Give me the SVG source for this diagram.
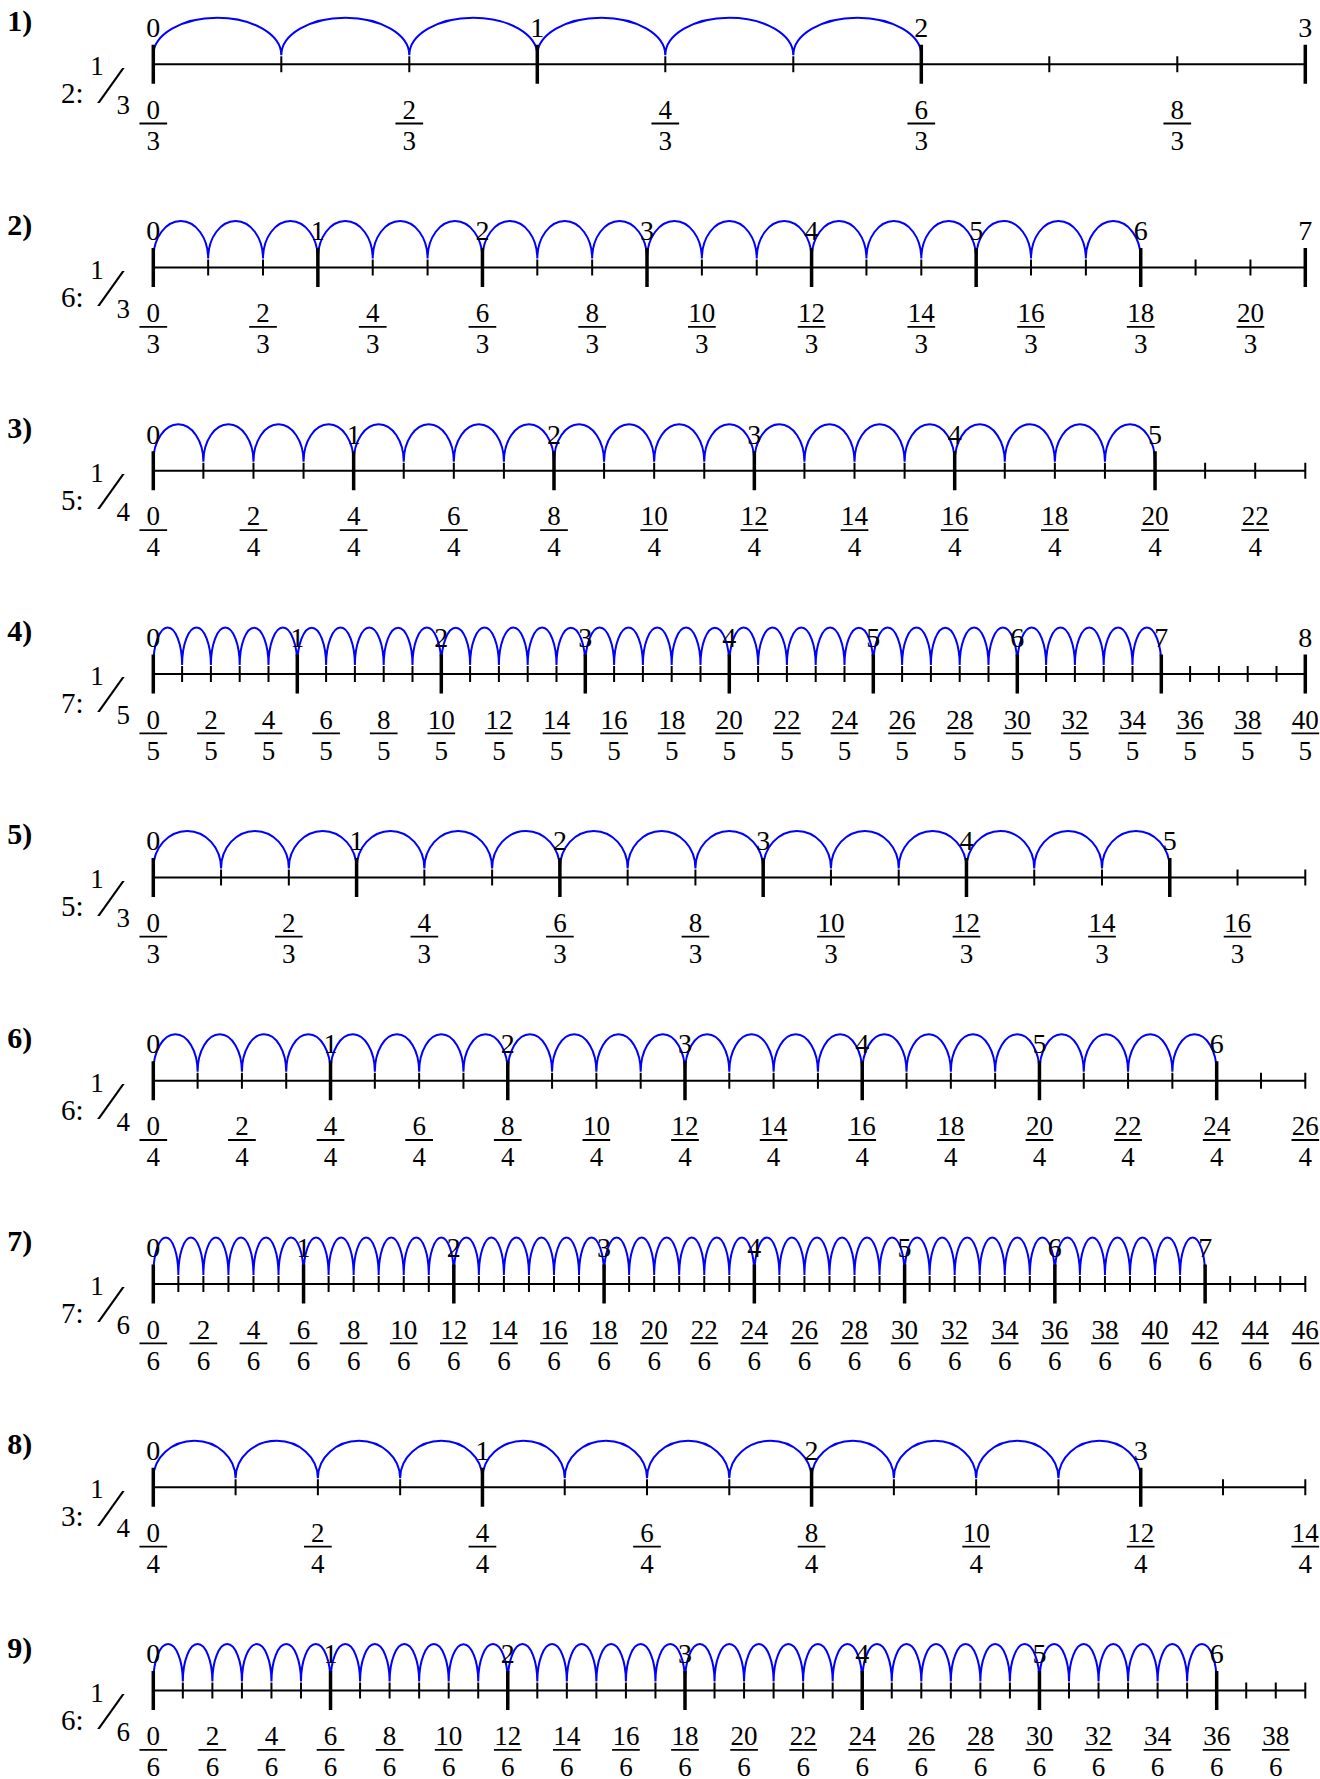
<svg xmlns="http://www.w3.org/2000/svg" width="1320" height="1779" viewBox="0 0 1320 1779">
<style>
.arc{fill:none;stroke:#0000ff;stroke-width:2}
.ax{stroke:#000;stroke-width:2;fill:none}
.mn{stroke:#000;stroke-width:2;fill:none}
.mj{stroke:#000;stroke-width:3.5;fill:none}
.bar{stroke:#000;stroke-width:1.8;fill:none}
text{font-family:"Liberation Serif","Times New Roman",serif;fill:#000}
.lb{font-size:30px;font-weight:bold}
.t{font-size:28px;text-anchor:middle}
.n{font-size:27px;text-anchor:middle}
.w{font-size:29px}
.s{font-size:27px;text-anchor:middle}
.sl{font-size:53px}
</style>
<rect width="1320" height="1779" fill="#fff"/>

<g id="row1" transform="translate(0,64.2)">
<path class="arc" d="M153.3,-9a64,37.5 0 0 1 128,0a64,37.5 0 0 1 128,0a64,37.5 0 0 1 128,0a64,37.5 0 0 1 128,0a64,37.5 0 0 1 128,0a64,37.5 0 0 1 128,0"/>
<path class="ax" d="M153.3,0H1305.3"/>
<path class="mn" d="M153.3,-8v16m128,-16v16m128,-16v16m128,-16v16m128,-16v16m128,-16v16m128,-16v16m128,-16v16m128,-16v16m128,-16v16"/>
<path class="mj" d="M153.3,-19.5v39m384,-39v39m384,-39v39m384,-39v39"/>
<path class="bar" d="M139.45,59.3h27.7m228.3,0h27.7m228.3,0h27.7m228.3,0h27.7m228.3,0h27.7"/>
<text class="lb" x="7.3" y="-33">1)</text>
<text class="w" x="61" y="39">2:</text><text class="s" x="97" y="11">1</text><text class="sl" x="106.6" y="38.3">⁄</text><text class="s" x="123.3" y="50">3</text>
<text class="t" x="153.3" y="-27.3">0</text><text class="t" x="537.3" y="-27.3">1</text><text class="t" x="921.3" y="-27.3">2</text><text class="t" x="1305.3" y="-27.3">3</text>
<text class="n" x="153.3" y="54.5">0</text><text class="n" x="409.3" y="54.5">2</text><text class="n" x="665.3" y="54.5">4</text><text class="n" x="921.3" y="54.5">6</text><text class="n" x="1177.3" y="54.5">8</text>
<text class="n" x="153.3" y="85.5">3</text><text class="n" x="409.3" y="85.5">3</text><text class="n" x="665.3" y="85.5">3</text><text class="n" x="921.3" y="85.5">3</text><text class="n" x="1177.3" y="85.5">3</text>
</g>

<g id="row2" transform="translate(0,267.5)">
<path class="arc" d="M153.3,-9a27.4286,37.5 0 0 1 54.8571,0a27.4286,37.5 0 0 1 54.8571,0a27.4286,37.5 0 0 1 54.8571,0a27.4286,37.5 0 0 1 54.8571,0a27.4286,37.5 0 0 1 54.8571,0a27.4286,37.5 0 0 1 54.8571,0a27.4286,37.5 0 0 1 54.8571,0a27.4286,37.5 0 0 1 54.8571,0a27.4286,37.5 0 0 1 54.8571,0a27.4286,37.5 0 0 1 54.8571,0a27.4286,37.5 0 0 1 54.8571,0a27.4286,37.5 0 0 1 54.8571,0a27.4286,37.5 0 0 1 54.8571,0a27.4286,37.5 0 0 1 54.8571,0a27.4286,37.5 0 0 1 54.8571,0a27.4286,37.5 0 0 1 54.8571,0a27.4286,37.5 0 0 1 54.8571,0a27.4286,37.5 0 0 1 54.8571,0"/>
<path class="ax" d="M153.3,0H1305.3"/>
<path class="mn" d="M153.3,-8v16m54.8571,-16v16m54.8571,-16v16m54.8571,-16v16m54.8571,-16v16m54.8571,-16v16m54.8571,-16v16m54.8571,-16v16m54.8571,-16v16m54.8571,-16v16m54.8571,-16v16m54.8571,-16v16m54.8571,-16v16m54.8571,-16v16m54.8571,-16v16m54.8571,-16v16m54.8571,-16v16m54.8571,-16v16m54.8571,-16v16m54.8571,-16v16m54.8571,-16v16m54.8571,-16v16"/>
<path class="mj" d="M153.3,-19.5v39m164.5714,-39v39m164.5714,-39v39m164.5714,-39v39m164.5714,-39v39m164.5714,-39v39m164.5714,-39v39m164.5714,-39v39"/>
<path class="bar" d="M139.45,59.3h27.7m82.0143,0h27.7m82.0143,0h27.7m82.0143,0h27.7m82.0143,0h27.7m82.0143,0h27.7m82.0143,0h27.7m82.0143,0h27.7m82.0143,0h27.7m82.0143,0h27.7m82.0143,0h27.7"/>
<text class="lb" x="7.3" y="-33">2)</text>
<text class="w" x="61" y="39">6:</text><text class="s" x="97" y="11">1</text><text class="sl" x="106.6" y="38.3">⁄</text><text class="s" x="123.3" y="50">3</text>
<text class="t" x="153.3" y="-27.3">0</text><text class="t" x="317.87" y="-27.3">1</text><text class="t" x="482.44" y="-27.3">2</text><text class="t" x="647.01" y="-27.3">3</text><text class="t" x="811.59" y="-27.3">4</text><text class="t" x="976.16" y="-27.3">5</text><text class="t" x="1140.73" y="-27.3">6</text><text class="t" x="1305.3" y="-27.3">7</text>
<text class="n" x="153.3" y="54.5">0</text><text class="n" x="263.01" y="54.5">2</text><text class="n" x="372.73" y="54.5">4</text><text class="n" x="482.44" y="54.5">6</text><text class="n" x="592.16" y="54.5">8</text><text class="n" x="701.87" y="54.5">10</text><text class="n" x="811.59" y="54.5">12</text><text class="n" x="921.3" y="54.5">14</text><text class="n" x="1031.01" y="54.5">16</text><text class="n" x="1140.73" y="54.5">18</text><text class="n" x="1250.44" y="54.5">20</text>
<text class="n" x="153.3" y="85.5">3</text><text class="n" x="263.01" y="85.5">3</text><text class="n" x="372.73" y="85.5">3</text><text class="n" x="482.44" y="85.5">3</text><text class="n" x="592.16" y="85.5">3</text><text class="n" x="701.87" y="85.5">3</text><text class="n" x="811.59" y="85.5">3</text><text class="n" x="921.3" y="85.5">3</text><text class="n" x="1031.01" y="85.5">3</text><text class="n" x="1140.73" y="85.5">3</text><text class="n" x="1250.44" y="85.5">3</text>
</g>

<g id="row3" transform="translate(0,470.8)">
<path class="arc" d="M153.3,-9a25.0435,37.5 0 0 1 50.087,0a25.0435,37.5 0 0 1 50.087,0a25.0435,37.5 0 0 1 50.087,0a25.0435,37.5 0 0 1 50.087,0a25.0435,37.5 0 0 1 50.087,0a25.0435,37.5 0 0 1 50.087,0a25.0435,37.5 0 0 1 50.087,0a25.0435,37.5 0 0 1 50.087,0a25.0435,37.5 0 0 1 50.087,0a25.0435,37.5 0 0 1 50.087,0a25.0435,37.5 0 0 1 50.087,0a25.0435,37.5 0 0 1 50.087,0a25.0435,37.5 0 0 1 50.087,0a25.0435,37.5 0 0 1 50.087,0a25.0435,37.5 0 0 1 50.087,0a25.0435,37.5 0 0 1 50.087,0a25.0435,37.5 0 0 1 50.087,0a25.0435,37.5 0 0 1 50.087,0a25.0435,37.5 0 0 1 50.087,0a25.0435,37.5 0 0 1 50.087,0"/>
<path class="ax" d="M153.3,0H1305.3"/>
<path class="mn" d="M153.3,-8v16m50.087,-16v16m50.087,-16v16m50.087,-16v16m50.087,-16v16m50.087,-16v16m50.087,-16v16m50.087,-16v16m50.087,-16v16m50.087,-16v16m50.087,-16v16m50.087,-16v16m50.087,-16v16m50.087,-16v16m50.087,-16v16m50.087,-16v16m50.087,-16v16m50.087,-16v16m50.087,-16v16m50.087,-16v16m50.087,-16v16m50.087,-16v16m50.087,-16v16m50.087,-16v16"/>
<path class="mj" d="M153.3,-19.5v39m200.3478,-39v39m200.3478,-39v39m200.3478,-39v39m200.3478,-39v39m200.3478,-39v39"/>
<path class="bar" d="M139.45,59.3h27.7m72.4739,0h27.7m72.4739,0h27.7m72.4739,0h27.7m72.4739,0h27.7m72.4739,0h27.7m72.4739,0h27.7m72.4739,0h27.7m72.4739,0h27.7m72.4739,0h27.7m72.4739,0h27.7m72.4739,0h27.7"/>
<text class="lb" x="7.3" y="-33">3)</text>
<text class="w" x="61" y="39">5:</text><text class="s" x="97" y="11">1</text><text class="sl" x="106.6" y="38.3">⁄</text><text class="s" x="123.3" y="50">4</text>
<text class="t" x="153.3" y="-27.3">0</text><text class="t" x="353.65" y="-27.3">1</text><text class="t" x="553.99" y="-27.3">2</text><text class="t" x="754.34" y="-27.3">3</text><text class="t" x="954.69" y="-27.3">4</text><text class="t" x="1155.04" y="-27.3">5</text>
<text class="n" x="153.3" y="54.5">0</text><text class="n" x="253.47" y="54.5">2</text><text class="n" x="353.65" y="54.5">4</text><text class="n" x="453.82" y="54.5">6</text><text class="n" x="553.99" y="54.5">8</text><text class="n" x="654.17" y="54.5">10</text><text class="n" x="754.34" y="54.5">12</text><text class="n" x="854.52" y="54.5">14</text><text class="n" x="954.69" y="54.5">16</text><text class="n" x="1054.87" y="54.5">18</text><text class="n" x="1155.04" y="54.5">20</text><text class="n" x="1255.21" y="54.5">22</text>
<text class="n" x="153.3" y="85.5">4</text><text class="n" x="253.47" y="85.5">4</text><text class="n" x="353.65" y="85.5">4</text><text class="n" x="453.82" y="85.5">4</text><text class="n" x="553.99" y="85.5">4</text><text class="n" x="654.17" y="85.5">4</text><text class="n" x="754.34" y="85.5">4</text><text class="n" x="854.52" y="85.5">4</text><text class="n" x="954.69" y="85.5">4</text><text class="n" x="1054.87" y="85.5">4</text><text class="n" x="1155.04" y="85.5">4</text><text class="n" x="1255.21" y="85.5">4</text>
</g>

<g id="row4" transform="translate(0,674.1)">
<path class="arc" d="M153.3,-9a14.4,37.5 0 0 1 28.8,0a14.4,37.5 0 0 1 28.8,0a14.4,37.5 0 0 1 28.8,0a14.4,37.5 0 0 1 28.8,0a14.4,37.5 0 0 1 28.8,0a14.4,37.5 0 0 1 28.8,0a14.4,37.5 0 0 1 28.8,0a14.4,37.5 0 0 1 28.8,0a14.4,37.5 0 0 1 28.8,0a14.4,37.5 0 0 1 28.8,0a14.4,37.5 0 0 1 28.8,0a14.4,37.5 0 0 1 28.8,0a14.4,37.5 0 0 1 28.8,0a14.4,37.5 0 0 1 28.8,0a14.4,37.5 0 0 1 28.8,0a14.4,37.5 0 0 1 28.8,0a14.4,37.5 0 0 1 28.8,0a14.4,37.5 0 0 1 28.8,0a14.4,37.5 0 0 1 28.8,0a14.4,37.5 0 0 1 28.8,0a14.4,37.5 0 0 1 28.8,0a14.4,37.5 0 0 1 28.8,0a14.4,37.5 0 0 1 28.8,0a14.4,37.5 0 0 1 28.8,0a14.4,37.5 0 0 1 28.8,0a14.4,37.5 0 0 1 28.8,0a14.4,37.5 0 0 1 28.8,0a14.4,37.5 0 0 1 28.8,0a14.4,37.5 0 0 1 28.8,0a14.4,37.5 0 0 1 28.8,0a14.4,37.5 0 0 1 28.8,0a14.4,37.5 0 0 1 28.8,0a14.4,37.5 0 0 1 28.8,0a14.4,37.5 0 0 1 28.8,0a14.4,37.5 0 0 1 28.8,0"/>
<path class="ax" d="M153.3,0H1305.3"/>
<path class="mn" d="M153.3,-8v16m28.8,-16v16m28.8,-16v16m28.8,-16v16m28.8,-16v16m28.8,-16v16m28.8,-16v16m28.8,-16v16m28.8,-16v16m28.8,-16v16m28.8,-16v16m28.8,-16v16m28.8,-16v16m28.8,-16v16m28.8,-16v16m28.8,-16v16m28.8,-16v16m28.8,-16v16m28.8,-16v16m28.8,-16v16m28.8,-16v16m28.8,-16v16m28.8,-16v16m28.8,-16v16m28.8,-16v16m28.8,-16v16m28.8,-16v16m28.8,-16v16m28.8,-16v16m28.8,-16v16m28.8,-16v16m28.8,-16v16m28.8,-16v16m28.8,-16v16m28.8,-16v16m28.8,-16v16m28.8,-16v16m28.8,-16v16m28.8,-16v16m28.8,-16v16"/>
<path class="mj" d="M153.3,-19.5v39m144,-39v39m144,-39v39m144,-39v39m144,-39v39m144,-39v39m144,-39v39m144,-39v39m144,-39v39"/>
<path class="bar" d="M139.45,59.3h27.7m29.9,0h27.7m29.9,0h27.7m29.9,0h27.7m29.9,0h27.7m29.9,0h27.7m29.9,0h27.7m29.9,0h27.7m29.9,0h27.7m29.9,0h27.7m29.9,0h27.7m29.9,0h27.7m29.9,0h27.7m29.9,0h27.7m29.9,0h27.7m29.9,0h27.7m29.9,0h27.7m29.9,0h27.7m29.9,0h27.7m29.9,0h27.7m29.9,0h27.7"/>
<text class="lb" x="7.3" y="-33">4)</text>
<text class="w" x="61" y="39">7:</text><text class="s" x="97" y="11">1</text><text class="sl" x="106.6" y="38.3">⁄</text><text class="s" x="123.3" y="50">5</text>
<text class="t" x="153.3" y="-27.3">0</text><text class="t" x="297.3" y="-27.3">1</text><text class="t" x="441.3" y="-27.3">2</text><text class="t" x="585.3" y="-27.3">3</text><text class="t" x="729.3" y="-27.3">4</text><text class="t" x="873.3" y="-27.3">5</text><text class="t" x="1017.3" y="-27.3">6</text><text class="t" x="1161.3" y="-27.3">7</text><text class="t" x="1305.3" y="-27.3">8</text>
<text class="n" x="153.3" y="54.5">0</text><text class="n" x="210.9" y="54.5">2</text><text class="n" x="268.5" y="54.5">4</text><text class="n" x="326.1" y="54.5">6</text><text class="n" x="383.7" y="54.5">8</text><text class="n" x="441.3" y="54.5">10</text><text class="n" x="498.9" y="54.5">12</text><text class="n" x="556.5" y="54.5">14</text><text class="n" x="614.1" y="54.5">16</text><text class="n" x="671.7" y="54.5">18</text><text class="n" x="729.3" y="54.5">20</text><text class="n" x="786.9" y="54.5">22</text><text class="n" x="844.5" y="54.5">24</text><text class="n" x="902.1" y="54.5">26</text><text class="n" x="959.7" y="54.5">28</text><text class="n" x="1017.3" y="54.5">30</text><text class="n" x="1074.9" y="54.5">32</text><text class="n" x="1132.5" y="54.5">34</text><text class="n" x="1190.1" y="54.5">36</text><text class="n" x="1247.7" y="54.5">38</text><text class="n" x="1305.3" y="54.5">40</text>
<text class="n" x="153.3" y="85.5">5</text><text class="n" x="210.9" y="85.5">5</text><text class="n" x="268.5" y="85.5">5</text><text class="n" x="326.1" y="85.5">5</text><text class="n" x="383.7" y="85.5">5</text><text class="n" x="441.3" y="85.5">5</text><text class="n" x="498.9" y="85.5">5</text><text class="n" x="556.5" y="85.5">5</text><text class="n" x="614.1" y="85.5">5</text><text class="n" x="671.7" y="85.5">5</text><text class="n" x="729.3" y="85.5">5</text><text class="n" x="786.9" y="85.5">5</text><text class="n" x="844.5" y="85.5">5</text><text class="n" x="902.1" y="85.5">5</text><text class="n" x="959.7" y="85.5">5</text><text class="n" x="1017.3" y="85.5">5</text><text class="n" x="1074.9" y="85.5">5</text><text class="n" x="1132.5" y="85.5">5</text><text class="n" x="1190.1" y="85.5">5</text><text class="n" x="1247.7" y="85.5">5</text><text class="n" x="1305.3" y="85.5">5</text>
</g>

<g id="row5" transform="translate(0,877.4)">
<path class="arc" d="M153.3,-9a33.8824,37.5 0 0 1 67.7647,0a33.8824,37.5 0 0 1 67.7647,0a33.8824,37.5 0 0 1 67.7647,0a33.8824,37.5 0 0 1 67.7647,0a33.8824,37.5 0 0 1 67.7647,0a33.8824,37.5 0 0 1 67.7647,0a33.8824,37.5 0 0 1 67.7647,0a33.8824,37.5 0 0 1 67.7647,0a33.8824,37.5 0 0 1 67.7647,0a33.8824,37.5 0 0 1 67.7647,0a33.8824,37.5 0 0 1 67.7647,0a33.8824,37.5 0 0 1 67.7647,0a33.8824,37.5 0 0 1 67.7647,0a33.8824,37.5 0 0 1 67.7647,0a33.8824,37.5 0 0 1 67.7647,0"/>
<path class="ax" d="M153.3,0H1305.3"/>
<path class="mn" d="M153.3,-8v16m67.7647,-16v16m67.7647,-16v16m67.7647,-16v16m67.7647,-16v16m67.7647,-16v16m67.7647,-16v16m67.7647,-16v16m67.7647,-16v16m67.7647,-16v16m67.7647,-16v16m67.7647,-16v16m67.7647,-16v16m67.7647,-16v16m67.7647,-16v16m67.7647,-16v16m67.7647,-16v16m67.7647,-16v16"/>
<path class="mj" d="M153.3,-19.5v39m203.2941,-39v39m203.2941,-39v39m203.2941,-39v39m203.2941,-39v39m203.2941,-39v39"/>
<path class="bar" d="M139.45,59.3h27.7m107.8294,0h27.7m107.8294,0h27.7m107.8294,0h27.7m107.8294,0h27.7m107.8294,0h27.7m107.8294,0h27.7m107.8294,0h27.7m107.8294,0h27.7"/>
<text class="lb" x="7.3" y="-33">5)</text>
<text class="w" x="61" y="39">5:</text><text class="s" x="97" y="11">1</text><text class="sl" x="106.6" y="38.3">⁄</text><text class="s" x="123.3" y="50">3</text>
<text class="t" x="153.3" y="-27.3">0</text><text class="t" x="356.59" y="-27.3">1</text><text class="t" x="559.89" y="-27.3">2</text><text class="t" x="763.18" y="-27.3">3</text><text class="t" x="966.48" y="-27.3">4</text><text class="t" x="1169.77" y="-27.3">5</text>
<text class="n" x="153.3" y="54.5">0</text><text class="n" x="288.83" y="54.5">2</text><text class="n" x="424.36" y="54.5">4</text><text class="n" x="559.89" y="54.5">6</text><text class="n" x="695.42" y="54.5">8</text><text class="n" x="830.95" y="54.5">10</text><text class="n" x="966.48" y="54.5">12</text><text class="n" x="1102.01" y="54.5">14</text><text class="n" x="1237.54" y="54.5">16</text>
<text class="n" x="153.3" y="85.5">3</text><text class="n" x="288.83" y="85.5">3</text><text class="n" x="424.36" y="85.5">3</text><text class="n" x="559.89" y="85.5">3</text><text class="n" x="695.42" y="85.5">3</text><text class="n" x="830.95" y="85.5">3</text><text class="n" x="966.48" y="85.5">3</text><text class="n" x="1102.01" y="85.5">3</text><text class="n" x="1237.54" y="85.5">3</text>
</g>

<g id="row6" transform="translate(0,1080.7)">
<path class="arc" d="M153.3,-9a22.1538,37.5 0 0 1 44.3077,0a22.1538,37.5 0 0 1 44.3077,0a22.1538,37.5 0 0 1 44.3077,0a22.1538,37.5 0 0 1 44.3077,0a22.1538,37.5 0 0 1 44.3077,0a22.1538,37.5 0 0 1 44.3077,0a22.1538,37.5 0 0 1 44.3077,0a22.1538,37.5 0 0 1 44.3077,0a22.1538,37.5 0 0 1 44.3077,0a22.1538,37.5 0 0 1 44.3077,0a22.1538,37.5 0 0 1 44.3077,0a22.1538,37.5 0 0 1 44.3077,0a22.1538,37.5 0 0 1 44.3077,0a22.1538,37.5 0 0 1 44.3077,0a22.1538,37.5 0 0 1 44.3077,0a22.1538,37.5 0 0 1 44.3077,0a22.1538,37.5 0 0 1 44.3077,0a22.1538,37.5 0 0 1 44.3077,0a22.1538,37.5 0 0 1 44.3077,0a22.1538,37.5 0 0 1 44.3077,0a22.1538,37.5 0 0 1 44.3077,0a22.1538,37.5 0 0 1 44.3077,0a22.1538,37.5 0 0 1 44.3077,0a22.1538,37.5 0 0 1 44.3077,0"/>
<path class="ax" d="M153.3,0H1305.3"/>
<path class="mn" d="M153.3,-8v16m44.3077,-16v16m44.3077,-16v16m44.3077,-16v16m44.3077,-16v16m44.3077,-16v16m44.3077,-16v16m44.3077,-16v16m44.3077,-16v16m44.3077,-16v16m44.3077,-16v16m44.3077,-16v16m44.3077,-16v16m44.3077,-16v16m44.3077,-16v16m44.3077,-16v16m44.3077,-16v16m44.3077,-16v16m44.3077,-16v16m44.3077,-16v16m44.3077,-16v16m44.3077,-16v16m44.3077,-16v16m44.3077,-16v16m44.3077,-16v16m44.3077,-16v16m44.3077,-16v16"/>
<path class="mj" d="M153.3,-19.5v39m177.2308,-39v39m177.2308,-39v39m177.2308,-39v39m177.2308,-39v39m177.2308,-39v39m177.2308,-39v39"/>
<path class="bar" d="M139.45,59.3h27.7m60.9154,0h27.7m60.9154,0h27.7m60.9154,0h27.7m60.9154,0h27.7m60.9154,0h27.7m60.9154,0h27.7m60.9154,0h27.7m60.9154,0h27.7m60.9154,0h27.7m60.9154,0h27.7m60.9154,0h27.7m60.9154,0h27.7m60.9154,0h27.7"/>
<text class="lb" x="7.3" y="-33">6)</text>
<text class="w" x="61" y="39">6:</text><text class="s" x="97" y="11">1</text><text class="sl" x="106.6" y="38.3">⁄</text><text class="s" x="123.3" y="50">4</text>
<text class="t" x="153.3" y="-27.3">0</text><text class="t" x="330.53" y="-27.3">1</text><text class="t" x="507.76" y="-27.3">2</text><text class="t" x="684.99" y="-27.3">3</text><text class="t" x="862.22" y="-27.3">4</text><text class="t" x="1039.45" y="-27.3">5</text><text class="t" x="1216.68" y="-27.3">6</text>
<text class="n" x="153.3" y="54.5">0</text><text class="n" x="241.92" y="54.5">2</text><text class="n" x="330.53" y="54.5">4</text><text class="n" x="419.15" y="54.5">6</text><text class="n" x="507.76" y="54.5">8</text><text class="n" x="596.38" y="54.5">10</text><text class="n" x="684.99" y="54.5">12</text><text class="n" x="773.61" y="54.5">14</text><text class="n" x="862.22" y="54.5">16</text><text class="n" x="950.84" y="54.5">18</text><text class="n" x="1039.45" y="54.5">20</text><text class="n" x="1128.07" y="54.5">22</text><text class="n" x="1216.68" y="54.5">24</text><text class="n" x="1305.3" y="54.5">26</text>
<text class="n" x="153.3" y="85.5">4</text><text class="n" x="241.92" y="85.5">4</text><text class="n" x="330.53" y="85.5">4</text><text class="n" x="419.15" y="85.5">4</text><text class="n" x="507.76" y="85.5">4</text><text class="n" x="596.38" y="85.5">4</text><text class="n" x="684.99" y="85.5">4</text><text class="n" x="773.61" y="85.5">4</text><text class="n" x="862.22" y="85.5">4</text><text class="n" x="950.84" y="85.5">4</text><text class="n" x="1039.45" y="85.5">4</text><text class="n" x="1128.07" y="85.5">4</text><text class="n" x="1216.68" y="85.5">4</text><text class="n" x="1305.3" y="85.5">4</text>
</g>

<g id="row7" transform="translate(0,1284)">
<path class="arc" d="M153.3,-9a12.5217,37.5 0 0 1 25.0435,0a12.5217,37.5 0 0 1 25.0435,0a12.5217,37.5 0 0 1 25.0435,0a12.5217,37.5 0 0 1 25.0435,0a12.5217,37.5 0 0 1 25.0435,0a12.5217,37.5 0 0 1 25.0435,0a12.5217,37.5 0 0 1 25.0435,0a12.5217,37.5 0 0 1 25.0435,0a12.5217,37.5 0 0 1 25.0435,0a12.5217,37.5 0 0 1 25.0435,0a12.5217,37.5 0 0 1 25.0435,0a12.5217,37.5 0 0 1 25.0435,0a12.5217,37.5 0 0 1 25.0435,0a12.5217,37.5 0 0 1 25.0435,0a12.5217,37.5 0 0 1 25.0435,0a12.5217,37.5 0 0 1 25.0435,0a12.5217,37.5 0 0 1 25.0435,0a12.5217,37.5 0 0 1 25.0435,0a12.5217,37.5 0 0 1 25.0435,0a12.5217,37.5 0 0 1 25.0435,0a12.5217,37.5 0 0 1 25.0435,0a12.5217,37.5 0 0 1 25.0435,0a12.5217,37.5 0 0 1 25.0435,0a12.5217,37.5 0 0 1 25.0435,0a12.5217,37.5 0 0 1 25.0435,0a12.5217,37.5 0 0 1 25.0435,0a12.5217,37.5 0 0 1 25.0435,0a12.5217,37.5 0 0 1 25.0435,0a12.5217,37.5 0 0 1 25.0435,0a12.5217,37.5 0 0 1 25.0435,0a12.5217,37.5 0 0 1 25.0435,0a12.5217,37.5 0 0 1 25.0435,0a12.5217,37.5 0 0 1 25.0435,0a12.5217,37.5 0 0 1 25.0435,0a12.5217,37.5 0 0 1 25.0435,0a12.5217,37.5 0 0 1 25.0435,0a12.5217,37.5 0 0 1 25.0435,0a12.5217,37.5 0 0 1 25.0435,0a12.5217,37.5 0 0 1 25.0435,0a12.5217,37.5 0 0 1 25.0435,0a12.5217,37.5 0 0 1 25.0435,0a12.5217,37.5 0 0 1 25.0435,0"/>
<path class="ax" d="M153.3,0H1305.3"/>
<path class="mn" d="M153.3,-8v16m25.0435,-16v16m25.0435,-16v16m25.0435,-16v16m25.0435,-16v16m25.0435,-16v16m25.0435,-16v16m25.0435,-16v16m25.0435,-16v16m25.0435,-16v16m25.0435,-16v16m25.0435,-16v16m25.0435,-16v16m25.0435,-16v16m25.0435,-16v16m25.0435,-16v16m25.0435,-16v16m25.0435,-16v16m25.0435,-16v16m25.0435,-16v16m25.0435,-16v16m25.0435,-16v16m25.0435,-16v16m25.0435,-16v16m25.0435,-16v16m25.0435,-16v16m25.0435,-16v16m25.0435,-16v16m25.0435,-16v16m25.0435,-16v16m25.0435,-16v16m25.0435,-16v16m25.0435,-16v16m25.0435,-16v16m25.0435,-16v16m25.0435,-16v16m25.0435,-16v16m25.0435,-16v16m25.0435,-16v16m25.0435,-16v16m25.0435,-16v16m25.0435,-16v16m25.0435,-16v16m25.0435,-16v16m25.0435,-16v16m25.0435,-16v16m25.0435,-16v16"/>
<path class="mj" d="M153.3,-19.5v39m150.2609,-39v39m150.2609,-39v39m150.2609,-39v39m150.2609,-39v39m150.2609,-39v39m150.2609,-39v39m150.2609,-39v39"/>
<path class="bar" d="M139.45,59.3h27.7m22.387,0h27.7m22.387,0h27.7m22.387,0h27.7m22.387,0h27.7m22.387,0h27.7m22.387,0h27.7m22.387,0h27.7m22.387,0h27.7m22.387,0h27.7m22.387,0h27.7m22.387,0h27.7m22.387,0h27.7m22.387,0h27.7m22.387,0h27.7m22.387,0h27.7m22.387,0h27.7m22.387,0h27.7m22.387,0h27.7m22.387,0h27.7m22.387,0h27.7m22.387,0h27.7m22.387,0h27.7m22.387,0h27.7"/>
<text class="lb" x="7.3" y="-33">7)</text>
<text class="w" x="61" y="39">7:</text><text class="s" x="97" y="11">1</text><text class="sl" x="106.6" y="38.3">⁄</text><text class="s" x="123.3" y="50">6</text>
<text class="t" x="153.3" y="-27.3">0</text><text class="t" x="303.56" y="-27.3">1</text><text class="t" x="453.82" y="-27.3">2</text><text class="t" x="604.08" y="-27.3">3</text><text class="t" x="754.34" y="-27.3">4</text><text class="t" x="904.6" y="-27.3">5</text><text class="t" x="1054.87" y="-27.3">6</text><text class="t" x="1205.13" y="-27.3">7</text>
<text class="n" x="153.3" y="54.5">0</text><text class="n" x="203.39" y="54.5">2</text><text class="n" x="253.47" y="54.5">4</text><text class="n" x="303.56" y="54.5">6</text><text class="n" x="353.65" y="54.5">8</text><text class="n" x="403.73" y="54.5">10</text><text class="n" x="453.82" y="54.5">12</text><text class="n" x="503.91" y="54.5">14</text><text class="n" x="553.99" y="54.5">16</text><text class="n" x="604.08" y="54.5">18</text><text class="n" x="654.17" y="54.5">20</text><text class="n" x="704.26" y="54.5">22</text><text class="n" x="754.34" y="54.5">24</text><text class="n" x="804.43" y="54.5">26</text><text class="n" x="854.52" y="54.5">28</text><text class="n" x="904.6" y="54.5">30</text><text class="n" x="954.69" y="54.5">32</text><text class="n" x="1004.78" y="54.5">34</text><text class="n" x="1054.87" y="54.5">36</text><text class="n" x="1104.95" y="54.5">38</text><text class="n" x="1155.04" y="54.5">40</text><text class="n" x="1205.13" y="54.5">42</text><text class="n" x="1255.21" y="54.5">44</text><text class="n" x="1305.3" y="54.5">46</text>
<text class="n" x="153.3" y="85.5">6</text><text class="n" x="203.39" y="85.5">6</text><text class="n" x="253.47" y="85.5">6</text><text class="n" x="303.56" y="85.5">6</text><text class="n" x="353.65" y="85.5">6</text><text class="n" x="403.73" y="85.5">6</text><text class="n" x="453.82" y="85.5">6</text><text class="n" x="503.91" y="85.5">6</text><text class="n" x="553.99" y="85.5">6</text><text class="n" x="604.08" y="85.5">6</text><text class="n" x="654.17" y="85.5">6</text><text class="n" x="704.26" y="85.5">6</text><text class="n" x="754.34" y="85.5">6</text><text class="n" x="804.43" y="85.5">6</text><text class="n" x="854.52" y="85.5">6</text><text class="n" x="904.6" y="85.5">6</text><text class="n" x="954.69" y="85.5">6</text><text class="n" x="1004.78" y="85.5">6</text><text class="n" x="1054.87" y="85.5">6</text><text class="n" x="1104.95" y="85.5">6</text><text class="n" x="1155.04" y="85.5">6</text><text class="n" x="1205.13" y="85.5">6</text><text class="n" x="1255.21" y="85.5">6</text><text class="n" x="1305.3" y="85.5">6</text>
</g>

<g id="row8" transform="translate(0,1487.3)">
<path class="arc" d="M153.3,-9a41.1429,37.5 0 0 1 82.2857,0a41.1429,37.5 0 0 1 82.2857,0a41.1429,37.5 0 0 1 82.2857,0a41.1429,37.5 0 0 1 82.2857,0a41.1429,37.5 0 0 1 82.2857,0a41.1429,37.5 0 0 1 82.2857,0a41.1429,37.5 0 0 1 82.2857,0a41.1429,37.5 0 0 1 82.2857,0a41.1429,37.5 0 0 1 82.2857,0a41.1429,37.5 0 0 1 82.2857,0a41.1429,37.5 0 0 1 82.2857,0a41.1429,37.5 0 0 1 82.2857,0"/>
<path class="ax" d="M153.3,0H1305.3"/>
<path class="mn" d="M153.3,-8v16m82.2857,-16v16m82.2857,-16v16m82.2857,-16v16m82.2857,-16v16m82.2857,-16v16m82.2857,-16v16m82.2857,-16v16m82.2857,-16v16m82.2857,-16v16m82.2857,-16v16m82.2857,-16v16m82.2857,-16v16m82.2857,-16v16m82.2857,-16v16"/>
<path class="mj" d="M153.3,-19.5v39m329.1429,-39v39m329.1429,-39v39m329.1429,-39v39"/>
<path class="bar" d="M139.45,59.3h27.7m136.8714,0h27.7m136.8714,0h27.7m136.8714,0h27.7m136.8714,0h27.7m136.8714,0h27.7m136.8714,0h27.7m136.8714,0h27.7"/>
<text class="lb" x="7.3" y="-33">8)</text>
<text class="w" x="61" y="39">3:</text><text class="s" x="97" y="11">1</text><text class="sl" x="106.6" y="38.3">⁄</text><text class="s" x="123.3" y="50">4</text>
<text class="t" x="153.3" y="-27.3">0</text><text class="t" x="482.44" y="-27.3">1</text><text class="t" x="811.59" y="-27.3">2</text><text class="t" x="1140.73" y="-27.3">3</text>
<text class="n" x="153.3" y="54.5">0</text><text class="n" x="317.87" y="54.5">2</text><text class="n" x="482.44" y="54.5">4</text><text class="n" x="647.01" y="54.5">6</text><text class="n" x="811.59" y="54.5">8</text><text class="n" x="976.16" y="54.5">10</text><text class="n" x="1140.73" y="54.5">12</text><text class="n" x="1305.3" y="54.5">14</text>
<text class="n" x="153.3" y="85.5">4</text><text class="n" x="317.87" y="85.5">4</text><text class="n" x="482.44" y="85.5">4</text><text class="n" x="647.01" y="85.5">4</text><text class="n" x="811.59" y="85.5">4</text><text class="n" x="976.16" y="85.5">4</text><text class="n" x="1140.73" y="85.5">4</text><text class="n" x="1305.3" y="85.5">4</text>
</g>

<g id="row9" transform="translate(0,1690.6)">
<path class="arc" d="M153.3,-9a14.7692,37.5 0 0 1 29.5385,0a14.7692,37.5 0 0 1 29.5385,0a14.7692,37.5 0 0 1 29.5385,0a14.7692,37.5 0 0 1 29.5385,0a14.7692,37.5 0 0 1 29.5385,0a14.7692,37.5 0 0 1 29.5385,0a14.7692,37.5 0 0 1 29.5385,0a14.7692,37.5 0 0 1 29.5385,0a14.7692,37.5 0 0 1 29.5385,0a14.7692,37.5 0 0 1 29.5385,0a14.7692,37.5 0 0 1 29.5385,0a14.7692,37.5 0 0 1 29.5385,0a14.7692,37.5 0 0 1 29.5385,0a14.7692,37.5 0 0 1 29.5385,0a14.7692,37.5 0 0 1 29.5385,0a14.7692,37.5 0 0 1 29.5385,0a14.7692,37.5 0 0 1 29.5385,0a14.7692,37.5 0 0 1 29.5385,0a14.7692,37.5 0 0 1 29.5385,0a14.7692,37.5 0 0 1 29.5385,0a14.7692,37.5 0 0 1 29.5385,0a14.7692,37.5 0 0 1 29.5385,0a14.7692,37.5 0 0 1 29.5385,0a14.7692,37.5 0 0 1 29.5385,0a14.7692,37.5 0 0 1 29.5385,0a14.7692,37.5 0 0 1 29.5385,0a14.7692,37.5 0 0 1 29.5385,0a14.7692,37.5 0 0 1 29.5385,0a14.7692,37.5 0 0 1 29.5385,0a14.7692,37.5 0 0 1 29.5385,0a14.7692,37.5 0 0 1 29.5385,0a14.7692,37.5 0 0 1 29.5385,0a14.7692,37.5 0 0 1 29.5385,0a14.7692,37.5 0 0 1 29.5385,0a14.7692,37.5 0 0 1 29.5385,0a14.7692,37.5 0 0 1 29.5385,0"/>
<path class="ax" d="M153.3,0H1305.3"/>
<path class="mn" d="M153.3,-8v16m29.5385,-16v16m29.5385,-16v16m29.5385,-16v16m29.5385,-16v16m29.5385,-16v16m29.5385,-16v16m29.5385,-16v16m29.5385,-16v16m29.5385,-16v16m29.5385,-16v16m29.5385,-16v16m29.5385,-16v16m29.5385,-16v16m29.5385,-16v16m29.5385,-16v16m29.5385,-16v16m29.5385,-16v16m29.5385,-16v16m29.5385,-16v16m29.5385,-16v16m29.5385,-16v16m29.5385,-16v16m29.5385,-16v16m29.5385,-16v16m29.5385,-16v16m29.5385,-16v16m29.5385,-16v16m29.5385,-16v16m29.5385,-16v16m29.5385,-16v16m29.5385,-16v16m29.5385,-16v16m29.5385,-16v16m29.5385,-16v16m29.5385,-16v16m29.5385,-16v16m29.5385,-16v16m29.5385,-16v16m29.5385,-16v16"/>
<path class="mj" d="M153.3,-19.5v39m177.2308,-39v39m177.2308,-39v39m177.2308,-39v39m177.2308,-39v39m177.2308,-39v39m177.2308,-39v39"/>
<path class="bar" d="M139.45,59.3h27.7m31.3769,0h27.7m31.3769,0h27.7m31.3769,0h27.7m31.3769,0h27.7m31.3769,0h27.7m31.3769,0h27.7m31.3769,0h27.7m31.3769,0h27.7m31.3769,0h27.7m31.3769,0h27.7m31.3769,0h27.7m31.3769,0h27.7m31.3769,0h27.7m31.3769,0h27.7m31.3769,0h27.7m31.3769,0h27.7m31.3769,0h27.7m31.3769,0h27.7m31.3769,0h27.7"/>
<text class="lb" x="7.3" y="-33">9)</text>
<text class="w" x="61" y="39">6:</text><text class="s" x="97" y="11">1</text><text class="sl" x="106.6" y="38.3">⁄</text><text class="s" x="123.3" y="50">6</text>
<text class="t" x="153.3" y="-27.3">0</text><text class="t" x="330.53" y="-27.3">1</text><text class="t" x="507.76" y="-27.3">2</text><text class="t" x="684.99" y="-27.3">3</text><text class="t" x="862.22" y="-27.3">4</text><text class="t" x="1039.45" y="-27.3">5</text><text class="t" x="1216.68" y="-27.3">6</text>
<text class="n" x="153.3" y="54.5">0</text><text class="n" x="212.38" y="54.5">2</text><text class="n" x="271.45" y="54.5">4</text><text class="n" x="330.53" y="54.5">6</text><text class="n" x="389.61" y="54.5">8</text><text class="n" x="448.68" y="54.5">10</text><text class="n" x="507.76" y="54.5">12</text><text class="n" x="566.84" y="54.5">14</text><text class="n" x="625.91" y="54.5">16</text><text class="n" x="684.99" y="54.5">18</text><text class="n" x="744.07" y="54.5">20</text><text class="n" x="803.15" y="54.5">22</text><text class="n" x="862.22" y="54.5">24</text><text class="n" x="921.3" y="54.5">26</text><text class="n" x="980.38" y="54.5">28</text><text class="n" x="1039.45" y="54.5">30</text><text class="n" x="1098.53" y="54.5">32</text><text class="n" x="1157.61" y="54.5">34</text><text class="n" x="1216.68" y="54.5">36</text><text class="n" x="1275.76" y="54.5">38</text>
<text class="n" x="153.3" y="85.5">6</text><text class="n" x="212.38" y="85.5">6</text><text class="n" x="271.45" y="85.5">6</text><text class="n" x="330.53" y="85.5">6</text><text class="n" x="389.61" y="85.5">6</text><text class="n" x="448.68" y="85.5">6</text><text class="n" x="507.76" y="85.5">6</text><text class="n" x="566.84" y="85.5">6</text><text class="n" x="625.91" y="85.5">6</text><text class="n" x="684.99" y="85.5">6</text><text class="n" x="744.07" y="85.5">6</text><text class="n" x="803.15" y="85.5">6</text><text class="n" x="862.22" y="85.5">6</text><text class="n" x="921.3" y="85.5">6</text><text class="n" x="980.38" y="85.5">6</text><text class="n" x="1039.45" y="85.5">6</text><text class="n" x="1098.53" y="85.5">6</text><text class="n" x="1157.61" y="85.5">6</text><text class="n" x="1216.68" y="85.5">6</text><text class="n" x="1275.76" y="85.5">6</text>
</g>
</svg>
